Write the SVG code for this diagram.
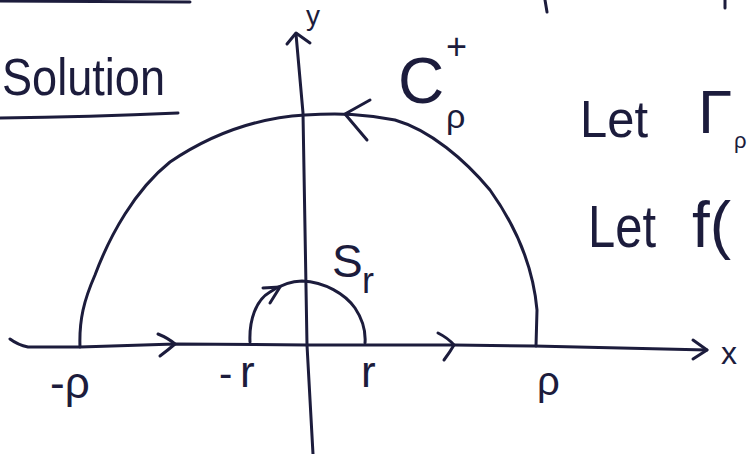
<svg xmlns="http://www.w3.org/2000/svg" width="748" height="454" viewBox="0 0 748 454">
<style>
.s{fill:none;stroke:#1c1c3c;stroke-width:3;stroke-linecap:round;stroke-linejoin:round}
.t{fill:#1c1c3c;font-family:"Liberation Sans","DejaVu Sans",sans-serif}
</style>
<rect width="748" height="454" fill="#ffffff"/>
<g id="fragments">
<path class="s" d="M0,1 L190,2"/>
<path class="s" d="M545,0 L547,12"/>
<path class="s" d="M725,0 L725,8"/>
</g>
<g id="title">
<text class="t" x="2" y="95" font-size="52" textLength="163" lengthAdjust="spacingAndGlyphs">Solution</text>
<path class="s" d="M0,118 Q90,117 178,113"/>
</g>
<g id="axes">
<path class="s" d="M10,339 Q18,345 28,347 L80,347 L175,344 L307,345 L373,345 L454,345 L534,346 L707,350"/>
<path class="s" d="M693,340 L707,350 L693,359"/>
<path class="s" d="M313,454 L307,345 L303,113 L296,34"/>
<path class="s" d="M287,44 L296,33 L310,43"/>
<text class="t" x="306" y="25" font-size="28">y</text>
<text class="t" x="721" y="364" font-size="32">x</text>
</g>
<g id="connectors">
<path class="s" d="M80,347 C79,320 84,300 95,275 C110,235 135,190 170,162 C210,135 255,118 305,115 C340,113 365,114 395,120 C430,130 465,160 490,190 C515,225 533,265 537,310 L536,346"/>
<path class="s" d="M370,100 L345,114 L367,140"/>
<path class="s" d="M158,334 Q168,338 175,344 Q168,350 160,356"/>
<path class="s" d="M438,333 Q448,338 454,345 Q450,352 444,360"/>
<path class="s" d="M250,342 C249,320 256,300 270,292 C282,284 292,281 302,281 C325,282 345,294 355,308 C363,320 366,330 365,343"/>
<path class="s" d="M263,288 L280,287 L270,303"/>
</g>
<g id="labels">
<text class="t" x="398" y="103" font-size="64">C</text>
<text class="t" x="446" y="59" font-size="36">+</text>
<text class="t" x="446" y="128" font-size="34">ρ</text>
<text class="t" x="332" y="277" font-size="46">S</text>
<text class="t" x="362" y="293" font-size="36">r</text>
<text class="t" x="50" y="398" font-size="44">-ρ</text>
<text class="t" x="219" y="387" font-size="40">-</text>
<text class="t" x="240" y="387" font-size="44">r</text>
<text class="t" x="361" y="387" font-size="44">r</text>
<text class="t" x="537" y="395" font-size="40">ρ</text>
</g>
<g id="notes">
<text class="t" x="580" y="137" font-size="52" textLength="68" lengthAdjust="spacingAndGlyphs">Let</text>
<text class="t" x="698" y="133" font-size="62">Γ</text>
<text class="t" x="734" y="148" font-size="22">ρ</text>
<text class="t" x="588" y="247" font-size="60" textLength="68" lengthAdjust="spacingAndGlyphs">Let</text>
<text class="t" x="692" y="247" font-size="64">f(</text>
</g>
</svg>
